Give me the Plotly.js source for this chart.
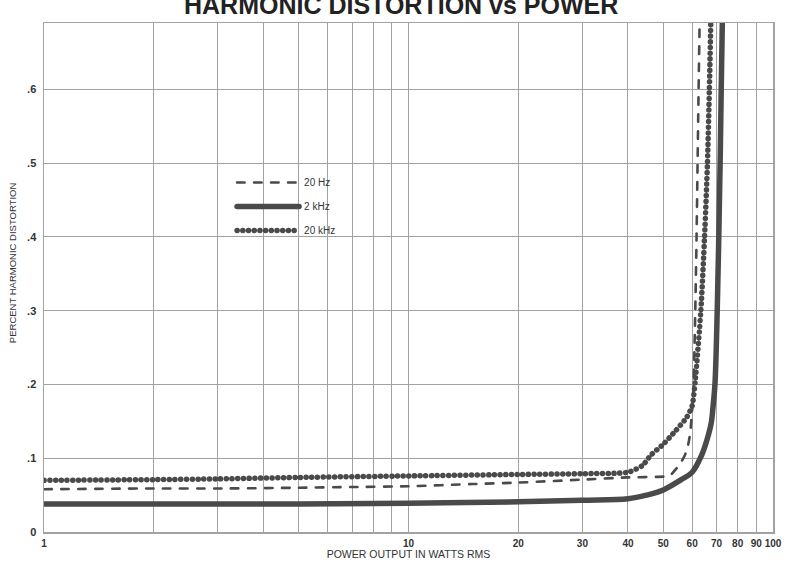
<!DOCTYPE html>
<html>
<head>
<meta charset="utf-8">
<script src="https://cdn.plot.ly/plotly-3.0.1.min.js"></script>
<style>
  html, body { margin: 0; padding: 0; background: #fff; }
  #chart { width: 792px; height: 563px; }
  path.js-line { stroke-linecap: round; }
</style>
</head>
<body>
<div id="chart"></div>
<script>
// ---- data ----
const titleText = "HARMONIC DISTORTION vs POWER";
const xTitle = "POWER OUTPUT IN WATTS RMS";
const yTitle = "PERCENT HARMONIC DISTORTION";

const seriesNames = ["20 Hz", "2 kHz", "20 kHz"];

const x20Hz = [1, 2, 3, 5, 7, 10, 15, 20, 30, 40, 50, 52, 54.3, 56, 57.3, 58.5, 59.3, 60, 60.5, 61.2, 61.7, 62.1, 62.5, 62.9];
const y20Hz = [0.058, 0.059, 0.059, 0.060, 0.061, 0.062, 0.065, 0.067, 0.071, 0.074, 0.075, 0.076, 0.086, 0.095, 0.104, 0.118, 0.135, 0.166, 0.195, 0.30, 0.40, 0.50, 0.60, 0.69];

const x2kHz = [1, 2, 5, 10, 20, 30, 40, 45, 50, 56, 60, 63.7, 66, 67.7, 68.5, 69.3, 70.3, 71, 71.6, 72.1, 72.6];
const y2kHz = [0.038, 0.038, 0.038, 0.039, 0.041, 0.043, 0.045, 0.050, 0.057, 0.071, 0.081, 0.104, 0.126, 0.148, 0.171, 0.20, 0.30, 0.40, 0.50, 0.60, 0.69];

const x20kHz = [1, 2, 3, 5, 10, 20, 30, 40, 43.8, 46.2, 50, 54, 57.9, 60, 61.2, 63.4, 64.9, 66.1, 66.9, 67.5];
const y20kHz = [0.070, 0.071, 0.072, 0.074, 0.076, 0.078, 0.079, 0.081, 0.090, 0.104, 0.119, 0.137, 0.155, 0.171, 0.205, 0.30, 0.40, 0.50, 0.60, 0.69];

const xTickVals = [1, 2, 3, 4, 5, 6, 7, 8, 9, 10, 20, 30, 40, 50, 60, 70, 80, 90, 100];
const xTickText = ["1", "", "", "", "", "", "", "", "", "10", "20", "30", "40", "50", "60", "70", "80", "90", "100"];
const yTickVals = [0, 0.1, 0.2, 0.3, 0.4, 0.5, 0.6];
const yTickText = ["0", ".1", ".2", ".3", ".4", ".5", ".6"];

// ---- styling ----
const ink = "#4a4a4a";
const grid = "#a2a2a2";
const plainFont = "Liberation Sans, Arial, Helvetica, sans-serif";

const traces = [
  { x: x20Hz, y: y20Hz, name: seriesNames[0], mode: "lines", legendgroup: "a",
    line: { color: ink, width: 2.6, dash: "7.5px,9.5px", shape: "spline", smoothing: 0.6 } },
  { x: x2kHz, y: y2kHz, name: seriesNames[1], mode: "lines", legendgroup: "b",
    line: { color: ink, width: 5.5, shape: "spline", smoothing: 1 } },
  { x: x20kHz, y: y20kHz, name: seriesNames[2], mode: "lines", legendgroup: "c",
    line: { color: ink, width: 5.5, dash: "0.1px,5.6px", shape: "spline", smoothing: 0.6 } }
];

const layout = {
  width: 792, height: 563,
  margin: { l: 44, r: 19, t: 23, b: 31 },
  paper_bgcolor: "#ffffff", plot_bgcolor: "#ffffff",
  showlegend: true,
  legend: {
    x: 0.258, y: 0.715, xanchor: "left", yanchor: "top",
    bgcolor: "rgba(0,0,0,0)", borderwidth: 0,
    itemwidth: 62, tracegroupgap: 5,
    font: { family: plainFont, size: 10, color: "#333" }
  },
  xaxis: {
    type: "log", range: [0, 2],
    tickvals: xTickVals, ticktext: xTickText, tickangle: 0,
    showgrid: true, gridcolor: grid, gridwidth: 1,
    showline: true, linecolor: grid, linewidth: 1.5, mirror: true,
    ticks: "", zeroline: false, ticklabelstandoff: 1,
    tickfont: { family: plainFont, size: 10, color: "#333", weight: "bold" },
    title: { text: xTitle, standoff: 2, font: { family: plainFont, size: 10.5, color: "#333" } },
    automargin: false
  },
  yaxis: {
    range: [0, 0.69],
    tickvals: yTickVals, ticktext: yTickText,
    showgrid: true, gridcolor: grid, gridwidth: 1,
    showline: true, linecolor: grid, linewidth: 1.5, mirror: true,
    ticks: "", zeroline: false, ticklabelstandoff: 4,
    tickfont: { family: plainFont, size: 11, color: "#333", weight: "bold" },
    automargin: false
  },
  annotations: [
    { text: "<b>" + titleText + "</b>", xref: "paper", yref: "paper", x: 0.49, y: 1,
      xanchor: "center", yanchor: "bottom", yshift: 2, showarrow: false,
      font: { family: plainFont, size: 25, color: "#222" } },
    { text: yTitle, xref: "paper", yref: "paper", x: -0.044, y: 0.53,
      xanchor: "center", yanchor: "middle", textangle: -90, showarrow: false,
      font: { family: plainFont, size: 9.5, color: "#333" } }
  ]
};

Plotly.newPlot("chart", traces, layout, { displayModeBar: false, staticPlot: true });
</script>
</body>
</html>
